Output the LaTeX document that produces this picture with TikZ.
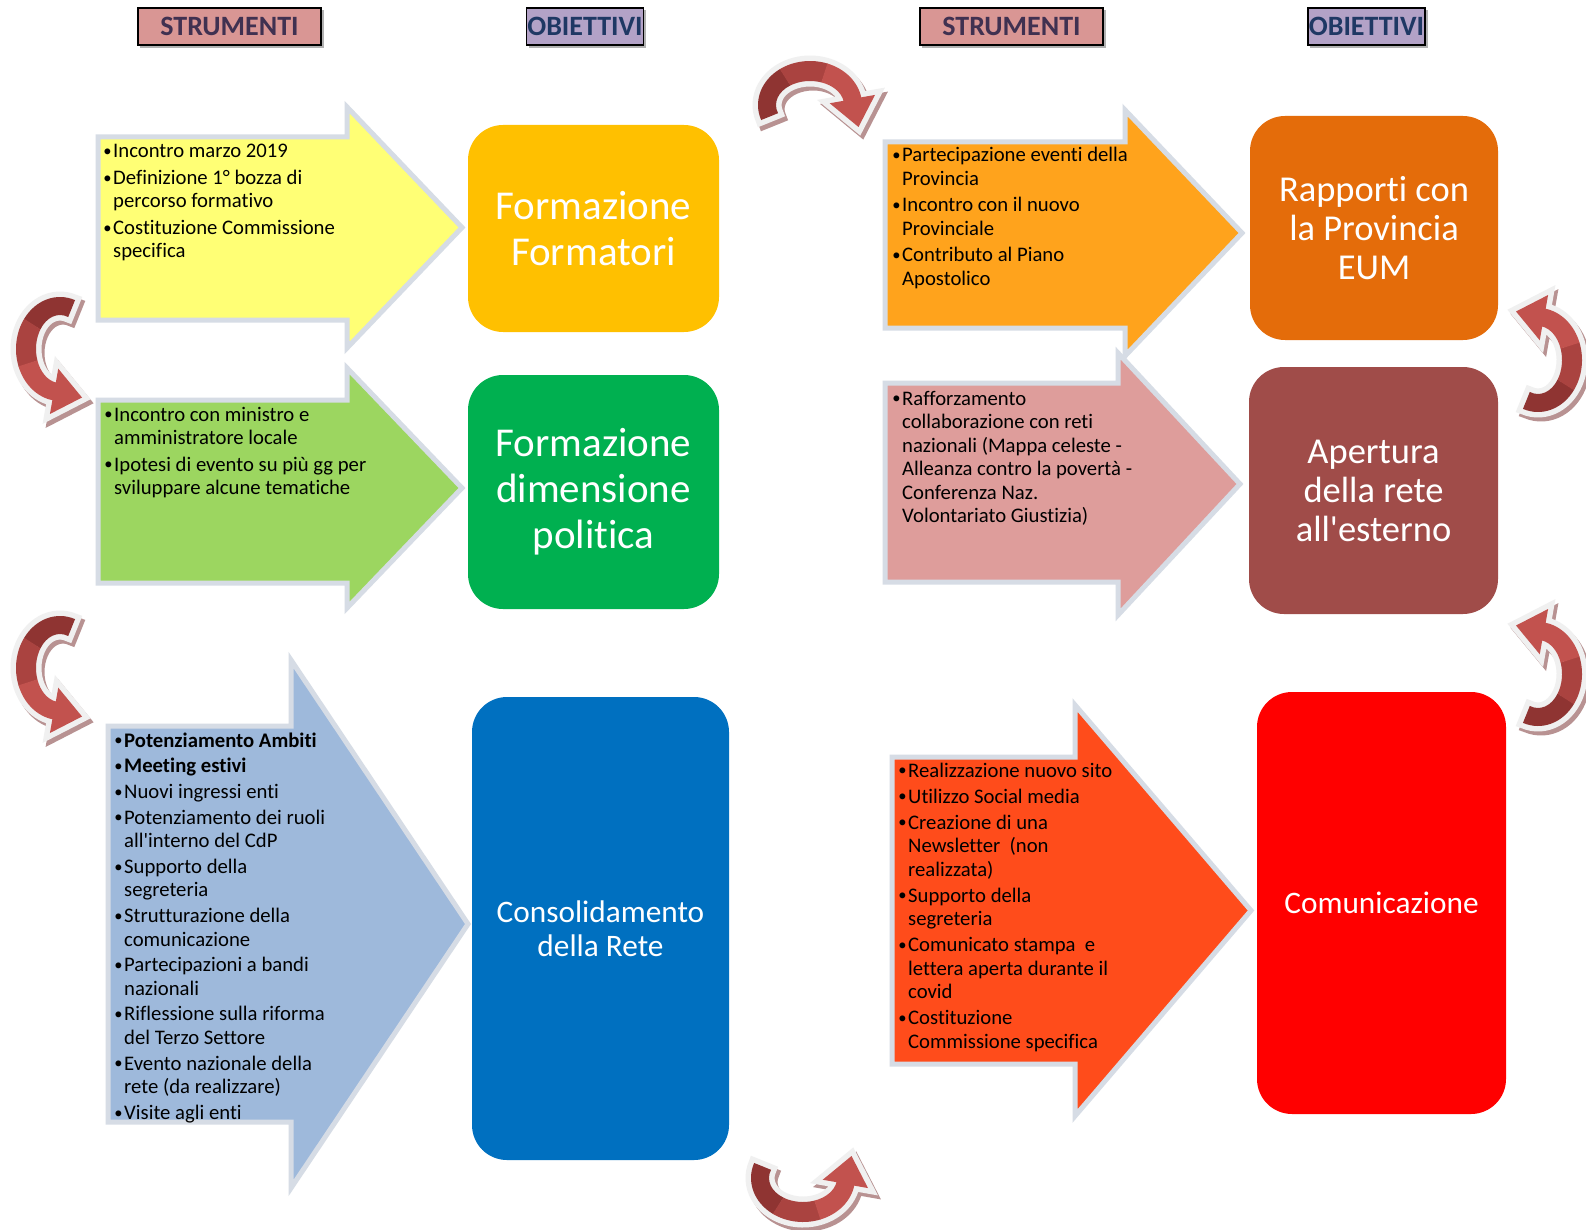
\documentclass[tikz,border=0pt]{standalone}
\usepackage{fontspec}
\setmainfont{Carlito}[Ligatures={TeXOff,CommonOff}]
\usetikzlibrary{calc}

\definecolor{ayellow}{RGB}{255,255,117}
\definecolor{agreen}{RGB}{156,214,96}
\definecolor{ablue}{RGB}{158,185,219}
\definecolor{aorange}{RGB}{255,163,28}
\definecolor{apink}{RGB}{222,157,155}
\definecolor{ared}{RGB}{255,76,27}
\definecolor{abord}{RGB}{214,220,229}
\definecolor{bone}{RGB}{255,192,0}
\definecolor{btwo}{RGB}{0,176,80}
\definecolor{bthree}{RGB}{0,112,192}
\definecolor{bfour}{RGB}{228,108,10}
\definecolor{bfive}{RGB}{160,76,73}
\definecolor{bsix}{RGB}{255,0,0}
\definecolor{hpink}{RGB}{217,150,148}
\definecolor{hlila}{RGB}{179,162,199}
\definecolor{htextp}{RGB}{64,49,81}
\definecolor{htextb}{RGB}{31,56,100}
\definecolor{cdark}{RGB}{143,52,50}
\definecolor{cmid}{RGB}{170,67,64}
\definecolor{clight}{RGB}{194,82,78}
\definecolor{cedge}{RGB}{240,240,240}
\definecolor{cshadow}{RGB}{184,146,146}

\newcommand\blockarrow[8]{%
  \path[draw=abord, line width=5pt, line join=miter, fill=#8]
    (#1,#2) -- (#4,#2) -- (#4,#5) -- (#7,{(#5+#6)/2}) -- (#4,#6) -- (#4,#3) -- (#1,#3) -- cycle;}

% curved arrow outline (local pixel frame, y down)
\newcommand\cpath{(290:44 and 52) arc[start angle=290,end angle=100,x radius=44,y radius=52]
  -- (100:58 and 66) -- (22,48.5) -- (100:10 and 20) -- (100:24 and 34)
  arc[start angle=100,end angle=290,x radius=24,y radius=34] -- cycle}

\newcommand\bul{\makebox[11pt][l]{\hspace{1.2pt}\raisebox{1.2pt}{\scalebox{0.8}{•}}}}

\tikzset{
  carrow/.pic={
    \draw[line width=11pt, draw=cedge, line join=miter, miter limit=4] \cpath;
    \fill[cdark] (290:44 and 52) arc[start angle=290,end angle=215,x radius=44,y radius=52]
      -- (215:24 and 34) arc[start angle=215,end angle=290,x radius=24,y radius=34] -- cycle;
    \fill[cmid] (215.5:44 and 52) arc[start angle=215.5,end angle=160,x radius=44,y radius=52]
      -- (160:24 and 34) arc[start angle=160,end angle=215.5,x radius=24,y radius=34] -- cycle;
    \fill[clight] (160.5:44 and 52) arc[start angle=160.5,end angle=100,x radius=44,y radius=52]
      -- (100:58 and 66) -- (22,48.5) -- (100:10 and 20) -- (100:24 and 34)
      arc[start angle=100,end angle=160.5,x radius=24,y radius=34] -- cycle;
  },
  carrowsh/.pic={
    \filldraw[line width=11pt, draw=cshadow, fill=cshadow, line join=miter, miter limit=4] \cpath;
  },
  lst/.style={anchor=base west, inner sep=0pt, text=black,
    font={\fontsize{20.7}{23.5}\selectfont}},
  objbox/.style={rounded corners=35pt, text=white, align=center, inner sep=0pt},
  hdr/.style={draw=black, line width=1.5pt, minimum height=37pt, inner sep=0pt,
    font={\fontsize{28}{30}\selectfont\bfseries}},
}

\begin{document}
\begin{tikzpicture}[x=1pt,y=-1pt]
\useasboundingbox[fill=white] (0,0) rectangle (1586,1230);

% headers
\fill[gray!60] (140,10) rectangle (324,48);
\node[hdr, fill=hpink, text=htextp, minimum width=183pt] (h1) at (229.5,26.5) {STRUMENTI};
\fill[gray!60] (529,10) rectangle (646,48);
\node[hdr, fill=hlila, text=htextb, minimum width=117pt] (h2) at (585,26.5) {OBIETTIVI};
\fill[gray!60] (922,10) rectangle (1106,48);
\node[hdr, fill=hpink, text=htextp, minimum width=183pt] (h3) at (1011.5,26.5) {STRUMENTI};
\fill[gray!60] (1310,10) rectangle (1428,48);
\node[hdr, fill=hlila, text=htextb, minimum width=117pt] (h4) at (1366.5,26.5) {OBIETTIVI};

% block arrows
\blockarrow{98}{137}{320}{347}{107}{348}{462}{ayellow}
\blockarrow{98}{400}{583}{347}{368}{608}{462}{agreen}
\blockarrow{108}{726}{1122}{291}{660}{1188}{468}{ablue}
\blockarrow{885}{142}{328}{1125}{110}{356}{1242}{aorange}
\blockarrow{885}{383}{582}{1118}{353}{615}{1240}{apink}
\blockarrow{892}{757}{1064}{1075}{705}{1116}{1251}{ared}

% lists
\node[lst] (t1) at (102,158) {\begin{tabular}[t]{@{}l@{}l@{}}
\bul & Incontro marzo 2019\\[3pt]
\bul & Definizione 1° bozza di\\
 & percorso formativo\\[3pt]
\bul & Costituzione Commissione\\
 & specifica
\end{tabular}};

\node[lst] (t2) at (103,421) {\begin{tabular}[t]{@{}l@{}l@{}}
\bul & Incontro con ministro e\\
 & amministratore locale\\[3pt]
\bul & Ipotesi di evento su più gg per\\
 & sviluppare alcune tematiche
\end{tabular}};

\node[lst] (t3) at (113,747) {\begin{tabular}[t]{@{}l@{}l@{}}
\bul & \textbf{Potenziamento Ambiti}\\[2.2pt]
\bul & \textbf{Meeting estivi}\\[2.2pt]
\bul & Nuovi ingressi enti\\[2.2pt]
\bul & Potenziamento dei ruoli\\
 & all'interno del CdP\\[2.2pt]
\bul & Supporto della\\
 & segreteria\\[2.2pt]
\bul & Strutturazione della\\
 & comunicazione\\[2.2pt]
\bul & Partecipazioni a bandi\\
 & nazionali\\[2.2pt]
\bul & Riflessione sulla riforma\\
 & del Terzo Settore\\[2.2pt]
\bul & Evento nazionale della\\
 & rete (da realizzare)\\[2.2pt]
\bul & Visite agli enti
\end{tabular}};

\node[lst] (t4) at (891,162) {\begin{tabular}[t]{@{}l@{}l@{}}
\bul & Partecipazione eventi della\\
 & Provincia\\[3pt]
\bul & Incontro con il nuovo\\
 & Provinciale\\[3pt]
\bul & Contributo al Piano\\
 & Apostolico
\end{tabular}};

\node[lst] (t5) at (891,405) {\begin{tabular}[t]{@{}l@{}l@{}}
\bul & Rafforzamento\\
 & collaborazione con reti\\
 & nazionali (Mappa celeste -\\
 & Alleanza contro la povertà -\\
 & Conferenza Naz.\\
 & Volontariato Giustizia)
\end{tabular}};

\node[lst] (t6) at (897,777) {\begin{tabular}[t]{@{}l@{}l@{}}
\bul & Realizzazione nuovo sito\\[2.5pt]
\bul & Utilizzo Social media\\[2.5pt]
\bul & Creazione di una\\
 & Newsletter~ (non\\
 & realizzata)\\[2.5pt]
\bul & Supporto della\\
 & segreteria\\[2.5pt]
\bul & Comunicato stampa~ e\\
 & lettera aperta durante il\\
 & covid\\[2.5pt]
\bul & Costituzione\\
 & Commissione specifica
\end{tabular}};

% objective boxes
\node[objbox, fill=bone, minimum width=251pt, minimum height=207pt,
  font={\fontsize{41}{45.5}\selectfont}] (o1) at (593.5,228.5) {Formazione\\Formatori};
\node[objbox, fill=btwo, minimum width=251pt, minimum height=234pt,
  font={\fontsize{41}{46}\selectfont}] (o2) at (593.5,492) {Formazione\\dimensione\\politica};
\node[objbox, fill=bthree, minimum width=257pt, minimum height=463pt,
  font={\fontsize{31.3}{34.5}\selectfont}] (o3) at (600.5,928.5) {Consolidamento\\della Rete};
\node[objbox, fill=bfour, minimum width=248pt, minimum height=224pt,
  font={\fontsize{36.5}{39}\selectfont}] (o4) at (1374,228) {Rapporti con\\la Provincia\\EUM};
\node[objbox, fill=bfive, minimum width=249pt, minimum height=247pt,
  font={\fontsize{36.5}{39}\selectfont}] (o5) at (1373.5,490.5) {Apertura\\della rete\\all'esterno};
\node[objbox, fill=bsix, minimum width=249pt, minimum height=422pt,
  font={\fontsize{31.3}{35}\selectfont}] (o6) at (1381.5,903) {Comunicazione};

% curved arrows
\pic at (63,353) {carrowsh};
\pic at (60,349) {carrow};
\pic at (63,672) {carrowsh};
\pic at (60,668) {carrow};
\pic[rotate=180] at (1541,364) {carrowsh};
\pic[rotate=180] at (1538,360) {carrow};
\pic[rotate=180] at (1541,678) {carrowsh};
\pic[rotate=180] at (1538,674) {carrow};
\pic[cm={0,-1,-1,0,(0,0)}] at (813,109) {carrowsh};
\pic[cm={0,-1,-1,0,(0,0)}] at (810,105) {carrow};
\pic[rotate=90] at (806,1182) {carrowsh};
\pic[rotate=90] at (803,1178) {carrow};
\end{tikzpicture}
\end{document}
